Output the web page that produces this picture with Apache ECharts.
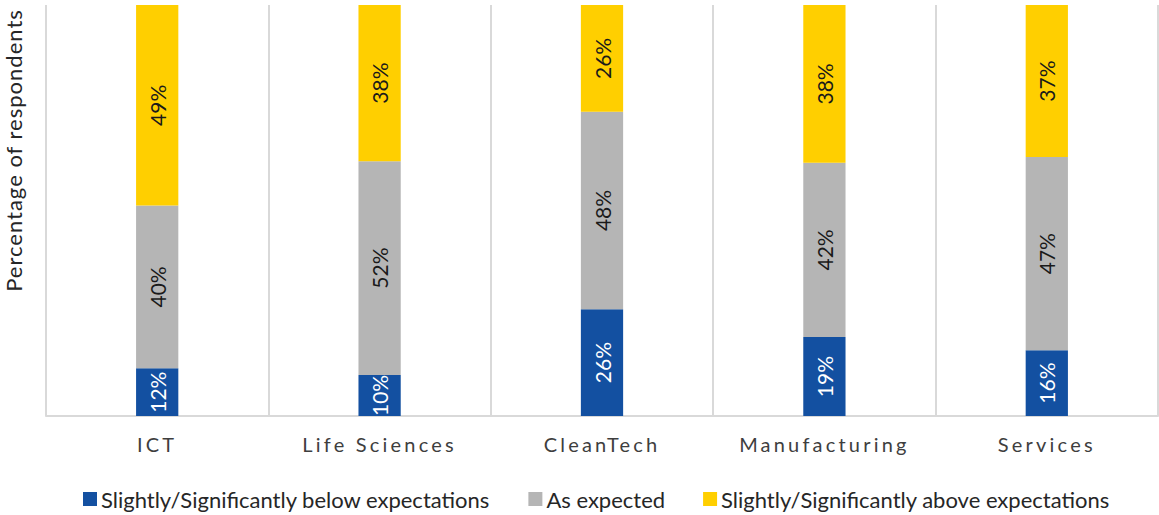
<!DOCTYPE html>
<html>
<head>
<meta charset="utf-8">
<script src="https://cdn.jsdelivr.net/npm/echarts@6/dist/echarts.min.js"></script>
<style>
html,body{margin:0;padding:0;background:#fff;}
#chart{width:1159px;height:515px;}
#chart text[fill="#3e3e3e"]{letter-spacing:3.2px;}
#chart text[fill="#262627"]{letter-spacing:1px;}
</style>
</head>
<body>
<div id="chart"></div>
<script>
const categories = ['ICT', 'Life Sciences', 'CleanTech', 'Manufacturing', 'Services'];
const seriesNames = ['Slightly/Significantly below expectations', 'As expected', 'Slightly/Significantly above expectations'];
const below = [11.6, 10, 26, 19.2, 16];
const asExpected = [39.6, 52, 48, 42.4, 47];
const above = [48.8, 38, 26, 38.4, 37];
const colors = ['#1350a1', '#b5b5b5', '#ffcf00'];
const labelColors = ['#ffffff', '#1a1a1a', '#1a1a1a'];
const FONT = 'Lato, "Noto Sans", sans-serif';

const chart = echarts.init(document.getElementById('chart'), null, {renderer: 'svg'});
const dataSets = [below, asExpected, above];
const option = {
  animation: false,
  textStyle: {fontFamily: FONT},
  grid: {left: 46, right: 1, top: 5, bottom: 99, outerBoundsMode: 'none'},
  legend: {
    data: seriesNames,
    left: 78,
    top: 483,
    itemWidth: 14,
    itemHeight: 14,
    itemGap: 38,
    icon: 'rect',
    textStyle: {fontSize: 22, color: '#262626', fontFamily: FONT, padding: [0, 0, 0, -1]}
  },
  xAxis: {
    type: 'category',
    data: categories,
    axisLine: {show: true, lineStyle: {color: '#d9d9d9', width: 2}},
    axisTick: {show: false},
    splitLine: {show: true, lineStyle: {color: '#d9d9d9', width: 2}},
    axisLabel: {fontSize: 20, color: '#3e3e3e', margin: 18, fontFamily: FONT}
  },
  yAxis: {
    type: 'value',
    min: 0,
    max: 100,
    axisLine: {show: false},
    axisTick: {show: false},
    axisLabel: {show: false},
    splitLine: {show: false},
    name: 'Percentage of respondents',
    nameLocation: 'middle',
    nameGap: 22,
    nameTextStyle: {fontSize: 22, color: '#262627', fontFamily: FONT, padding: [0, 0, 0, 120]}
  },
  series: seriesNames.map((name, i) => ({
    name: name,
    type: 'bar',
    stack: 'total',
    barWidth: '19%',
    data: dataSets[i],
    itemStyle: {color: colors[i]},
    label: {
      show: true,
      position: 'inside',
      rotate: 90,
      fontSize: 21,
      color: labelColors[i],
      fontFamily: FONT,
      formatter: p => Math.round(p.value) + '%'
    }
  }))
};
chart.setOption(option);
</script>
</body>
</html>
